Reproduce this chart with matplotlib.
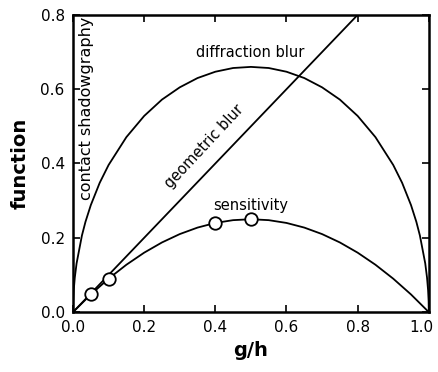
import numpy as np
import matplotlib
matplotlib.use("Agg")
import matplotlib.pyplot as plt
from matplotlib.transforms import ScaledTranslation

# diffraction blur
diff_x = [0.0, 0.0005, 0.002, 0.005, 0.01, 0.025, 0.035, 0.05, 0.075, 0.1, 0.15, 0.2, 0.25,
          0.3, 0.35, 0.4, 0.45, 0.5, 0.55, 0.6, 0.65, 0.7, 0.75, 0.8, 0.85, 0.9,
          0.925, 0.95, 0.965, 0.975, 0.99, 0.995, 0.998, 0.9995, 1.0]
diff_y = [0.0, 0.030, 0.059, 0.093, 0.131, 0.206, 0.243, 0.288, 0.348, 0.396, 0.471, 0.528, 0.572,
          0.605, 0.630, 0.647, 0.657, 0.660, 0.657, 0.647, 0.630, 0.605, 0.572, 0.528, 0.471, 0.396,
          0.348, 0.288, 0.243, 0.206, 0.131, 0.093, 0.059, 0.030, 0.0]

# geometric blur (straight line)
geo_x = [0.0, 0.8]
geo_y = [0.0, 0.8]

# sensitivity
sens_x = [0.0, 0.05, 0.1, 0.15, 0.2, 0.25, 0.3, 0.35, 0.4, 0.45, 0.5,
          0.55, 0.6, 0.65, 0.7, 0.75, 0.8, 0.85, 0.9, 0.95, 1.0]
sens_y = [0.0, 0.0475, 0.09, 0.1275, 0.16, 0.1875, 0.21, 0.2275, 0.24, 0.2475, 0.25,
          0.2475, 0.24, 0.2275, 0.21, 0.1875, 0.16, 0.1275, 0.09, 0.0475, 0.0]

# circled points
pts_x = [0.05, 0.1, 0.4, 0.5]
pts_y = [0.0475, 0.09, 0.24, 0.25]

fig = plt.figure(figsize=(4.38, 3.72), dpi=100)
ax = fig.add_axes([0.1667, 0.161, 0.8123, 0.799])

ax.plot(diff_x, diff_y, color="black", lw=1.3)
ax.plot(geo_x, geo_y, color="black", lw=1.3)
ax.plot(sens_x, sens_y, color="black", lw=1.3)
ax.plot(pts_x, pts_y, "o", ms=9, mfc="white", mec="black", mew=1.3, zorder=3)

ax.set_xlim(0, 1.0)
ax.set_ylim(0, 0.8)
ax.set_xticks([0.0, 0.2, 0.4, 0.6, 0.8, 1.0])
ax.set_yticks([0.0, 0.2, 0.4, 0.6, 0.8])
ax.xaxis.set_major_formatter(matplotlib.ticker.FormatStrFormatter("%.1f"))
ax.yaxis.set_major_formatter(matplotlib.ticker.FormatStrFormatter("%.1f"))
ax.tick_params(direction="in", length=5, width=1.2, labelsize=11,
               top=True, right=True, pad=6)
for s in ax.spines.values():
    s.set_linewidth(1.8)

# keep the last x label inside the figure
last = ax.get_xticklabels()[-1]
last.set_transform(last.get_transform() + ScaledTranslation(-5 / 72, 0, fig.dpi_scale_trans))

ax.set_xlabel("g/h", fontsize=14, fontweight="bold", labelpad=4)
ax.set_ylabel("function", fontsize=14, fontweight="bold", labelpad=8)

ax.text(0.497, 0.70, "diffraction blur", ha="center", va="center", fontsize=10.5)
ax.text(0.37, 0.445, "geometric blur", ha="center", va="center", fontsize=10.5, rotation=47)
ax.text(0.50, 0.288, "sensitivity", ha="center", va="center", fontsize=10.5)
ax.text(0.038, 0.795, "contact shadowgraphy", ha="center", va="top", fontsize=11.5, rotation=90)

plt.savefig("out.png", dpi=100)
